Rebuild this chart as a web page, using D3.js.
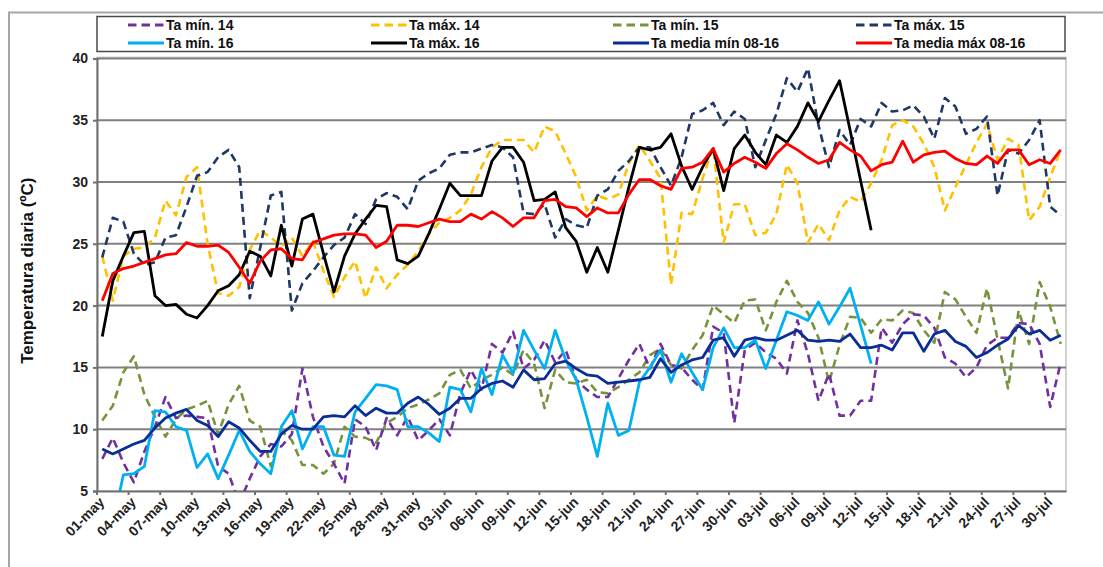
<!DOCTYPE html>
<html>
<head>
<meta charset="utf-8">
<script src="https://cdn.jsdelivr.net/npm/d3@7"></script>
<style>
  body { margin: 0; background: #fff; }
  svg { display: block; }
  .tick-label { font-family: "Liberation Sans Narrow", "Arial Narrow", "Liberation Sans", Arial, sans-serif; font-weight: bold; fill: #222; }
  .legend-text { font-family: "Liberation Sans Narrow", "Arial Narrow", "Liberation Sans", Arial, sans-serif; font-weight: bold; font-size: 14px; fill: #111; }
</style>
</head>
<body>
<svg id="chart"></svg>
<script>
// days 01-may .. 31-jul
const months = [["may", 31], ["jun", 30], ["jul", 31]];
const categories = [];
months.forEach(([m, n]) => {
  for (let d = 1; d <= n; d++) categories.push(String(d).padStart(2, "0") + "-" + m);
});

const yTicks = [5, 10, 15, 20, 25, 30, 35, 40];

const tMin14 = [7.6, 9.3, 7.3, 5.7, 8.2, 10.2, 12.6, 10.9, 11.1, 11.0,
  10.9, 7.0, 6.4, 4.0, 6.0, 7.8, 8.8, 8.6, 9.6, 14.9,
  11.0, 8.6, 7.2, 5.6, 10.8, 10.2, 8.3, 10.9, 9.5, 11.0,
  9.1, 9.9, 10.8, 9.5, 12.9, 14.8, 13.2, 16.9, 16.2, 17.9,
  14.9, 15.6, 17.2, 15.4, 16.4, 14.0, 13.2, 12.6, 12.6, 14.1,
  15.6, 16.9, 14.9, 16.9, 15.2, 15.0, 14.0, 13.2, 18.3, 17.8,
  10.5, 16.4, 17.0, 16.2, 15.7, 14.5, 18.8, 16.1, 12.3, 14.5,
  11.1, 11.1, 12.3, 12.3, 18.2, 17.0, 18.5, 19.3, 19.2, 18.2,
  15.8, 15.3, 14.2, 15.0, 16.8, 17.4, 17.4, 18.6, 18.5, 16.9,
  11.8, 15.4];

const tMax14 = [24.0, 20.4, 24.0, 24.6, 24.7, 25.5, 28.5, 27.3, 30.4, 31.2,
  25.0, 21.0, 20.8, 21.5, 24.5, 26.1, 25.5, 24.8, 25.5, 24.0,
  25.2, 22.8, 20.7, 22.3, 23.6, 20.6, 23.1, 21.4, 22.5, 23.3,
  24.4, 25.8, 26.7, 27.1, 27.7, 29.0, 31.2, 32.8, 33.4, 33.4,
  33.4, 32.4, 34.5, 34.1, 32.3, 30.4, 27.7, 28.9, 28.6, 29.0,
  31.5, 33.0, 31.7, 30.3, 21.7, 27.5, 27.4, 30.3, 32.8, 25.1,
  28.2, 28.2, 25.7, 25.9, 27.4, 31.4, 29.9, 25.1, 26.6, 25.3,
  27.7, 28.8, 28.4, 29.9, 31.8, 34.6, 35.0, 34.5, 33.1, 31.2,
  27.7, 29.6, 31.4, 33.2, 34.7, 31.8, 33.5, 33.0, 26.9, 28.0,
  30.4, 32.6];

const tMin15 = [10.7, 11.9, 14.6, 15.9, 12.8, 11.0, 9.4, 10.8, 11.6, 11.9,
  12.3, 9.6, 12.0, 13.5, 10.7, 10.2, 7.0, 9.9, 9.1, 7.1,
  7.1, 6.4, 7.2, 10.2, 9.4, 9.3, 8.9, 10.5, 11.0, 11.7,
  12.0, 12.4, 12.9, 14.4, 14.8, 13.3, 14.0, 14.4, 15.0, 14.4,
  16.4, 15.3, 11.7, 14.8, 13.8, 13.7, 14.0, 13.0, 12.9, 13.4,
  14.0, 14.6, 16.0, 16.5, 15.2, 14.9, 16.4, 17.6, 20.0, 19.3,
  18.6, 20.4, 20.5, 18.0, 20.3, 22.0, 20.3, 19.4, 17.4, 13.8,
  16.8, 19.1, 19.0, 17.8, 18.9, 18.8, 19.6, 19.4, 18.0, 17.0,
  21.1, 20.5, 19.1, 17.8, 21.4, 17.3, 13.3, 19.6, 16.9, 21.9,
  19.9, 16.9];

const tMax15 = [23.9, 27.1, 26.8, 24.2, 23.3, 23.5, 25.5, 25.7, 28.0, 30.5,
  30.8, 32.0, 32.6, 31.2, 20.6, 24.7, 28.9, 29.2, 19.6, 21.8,
  22.8, 23.9, 24.9, 25.5, 27.4, 26.6, 28.6, 29.1, 28.8, 27.8,
  30.1, 30.7, 31.1, 32.2, 32.4, 32.4, 32.7, 33.0, 32.8, 32.0,
  27.5, 27.4, 28.2, 25.5, 27.0, 26.5, 26.3, 28.9, 29.4, 30.9,
  31.7, 32.8, 32.8, 31.2, 29.7, 32.0, 35.5, 35.8, 36.4, 34.6,
  35.7, 35.1, 31.2, 33.4, 35.5, 38.4, 37.3, 39.2, 34.6, 31.2,
  34.2, 33.0, 35.1, 34.5, 36.4, 35.7, 35.8, 36.2, 35.3, 33.5,
  36.8, 36.1, 33.9, 34.3, 35.3, 28.9, 32.6, 32.3, 33.4, 35.0,
  28.0, 27.3];

const tMin16 = [3.0, 2.3, 6.3, 6.4, 7.0, 11.5, 11.4, 10.2, 9.9, 6.9,
  8.0, 6.0, 7.9, 9.9, 8.2, 7.2, 6.4, 10.2, 11.5, 8.4,
  10.2, 10.2, 7.9, 7.8, 11.4, 12.5, 13.6, 13.5, 13.2, 10.2,
  10.2, 9.7, 9.0, 13.4, 13.2, 11.4, 14.9, 12.8, 16.0, 14.5,
  18.0, 16.4, 14.9, 18.0, 15.6, 14.0, 11.0, 7.8, 12.1, 9.5,
  9.9, 13.8, 15.0, 16.4, 13.8, 16.1, 14.6, 13.2, 16.6, 18.2,
  16.6, 16.6, 17.2, 14.9, 17.2, 19.5, 19.2, 18.8, 20.3, 18.5,
  19.9, 21.4, 18.4, 15.3];

const tMax16 = [17.5, 22.0, 24.0, 25.9, 26.0, 20.8, 20.0, 20.1, 19.3, 19.0,
  20.0, 21.2, 21.6, 22.5, 24.4, 24.0, 22.4, 26.5, 23.2, 27.0,
  27.4, 24.2, 21.1, 24.0, 25.8, 27.0, 28.1, 28.0, 23.7, 23.4,
  24.0, 25.8, 27.8, 29.9, 28.9, 28.9, 28.9, 31.7, 32.8, 32.8,
  31.6, 28.5, 28.6, 29.2, 26.3, 25.2, 22.7, 24.7, 22.7, 26.1,
  29.6, 32.8, 32.6, 32.8, 33.9, 31.3, 29.4, 31.2, 32.7, 29.3,
  32.7, 33.8, 32.4, 31.4, 33.8, 33.2, 34.5, 36.4, 34.9, 36.6,
  38.2, 34.2, 30.1, 26.1];

const mediaMin = [8.4, 8.0, 8.4, 8.8, 9.1, 10.1, 10.9, 11.3, 11.6, 10.7,
  10.3, 9.4, 10.6, 10.1, 9.1, 8.2, 8.2, 9.6, 10.3, 10.0,
  10.0, 11.0, 11.1, 11.0, 11.9, 11.1, 11.7, 11.3, 11.3, 12.1,
  12.6, 12.0, 11.2, 11.7, 12.5, 12.5, 13.3, 13.7, 13.9, 13.4,
  14.8, 14.0, 14.1, 15.3, 15.5, 14.9, 14.4, 14.3, 13.7, 13.8,
  13.9, 14.0, 14.2, 15.7, 14.6, 15.2, 15.6, 15.8, 17.2, 17.4,
  15.9, 17.2, 17.4, 17.2, 17.2, 17.6, 18.0, 17.2, 17.1, 17.2,
  17.1, 17.7, 16.6, 16.6, 16.8, 16.4, 17.8, 17.8, 16.3, 17.7,
  18.0, 17.1, 16.7, 15.8, 16.2, 16.8, 17.3, 18.4, 17.7, 18.0,
  17.2, 17.6];

const mediaMax = [20.4, 22.6, 23.0, 23.2, 23.5, 23.8, 24.1, 24.2, 25.1, 24.8,
  24.8, 24.9, 24.3, 23.1, 21.8, 23.6, 24.5, 24.6, 23.8, 23.7,
  25.1, 25.4, 25.7, 25.8, 25.8, 25.7, 24.7, 25.2, 26.5, 26.5,
  26.4, 26.7, 27.0, 26.8, 26.8, 27.4, 27.0, 27.6, 27.1, 26.4,
  27.1, 27.1, 28.5, 28.6, 28.0, 27.9, 27.2, 27.9, 27.5, 27.5,
  29.0, 30.2, 30.2, 29.7, 29.4, 31.1, 31.2, 31.6, 32.7, 30.8,
  31.5, 32.0, 31.6, 31.1, 32.3, 33.1, 32.6, 32.0, 31.5, 31.8,
  33.2, 32.6, 32.1, 30.9, 31.4, 31.6, 33.3, 31.6, 32.2, 32.4,
  32.5, 31.9, 31.5, 31.4, 32.1, 31.5, 32.6, 32.6, 31.4, 31.8,
  31.5, 32.6];

const seriesNames = ["Ta mín. 14", "Ta máx. 14", "Ta mín. 15", "Ta máx. 15",
  "Ta mín. 16", "Ta máx. 16", "Ta media mín 08-16", "Ta media máx 08-16"];
const seriesValues = [tMin14, tMax14, tMin15, tMax15, tMin16, tMax16, mediaMin, mediaMax];
const seriesColors = ["#7030a0", "#ffc000", "#77933c", "#1f3864", "#00b0f0", "#000000", "#0a2d96", "#ff0000"];
const seriesDashed = [true, true, true, true, false, false, false, false];

const width = 1103, height = 567;
const plot = {left: 97, right: 1066, top: 58.4, bottom: 491};

const svg = d3.select("#chart")
  .attr("width", width)
  .attr("height", height);

svg.append("rect").attr("width", width).attr("height", height).attr("fill", "#fff");

// outer frame (only top and left visible)
svg.append("path")
  .attr("d", "M9,567 V12.5 H1103")
  .attr("fill", "none")
  .attr("stroke", "#a6a6a6")
  .attr("stroke-width", 2);

const xScale = d3.scaleBand()
  .domain(categories)
  .range([plot.left, plot.right])
  .padding(0);

const yScale = d3.scaleLinear()
  .domain([5, 40])
  .range([plot.bottom, plot.top]);

const xMid = d => xScale(d) + xScale.bandwidth() / 2;

// plot border
svg.append("rect")
  .attr("x", plot.left)
  .attr("y", plot.top - 1)
  .attr("width", plot.right - plot.left)
  .attr("height", plot.bottom - plot.top + 1)
  .attr("fill", "none")
  .attr("stroke", "#c4c4c4")
  .attr("stroke-width", 1.5);

// gridlines
svg.append("g")
  .selectAll("line")
  .data(yTicks.slice(1))
  .enter().append("line")
  .attr("x1", plot.left)
  .attr("x2", plot.right)
  .attr("y1", d => yScale(d))
  .attr("y2", d => yScale(d))
  .attr("stroke", "#808080")
  .attr("stroke-width", 2);

// y axis
const yAxis = d3.axisLeft(yScale)
  .tickValues(yTicks)
  .tickSize(4)
  .tickPadding(5);

const gy = svg.append("g")
  .attr("transform", "translate(" + plot.left + ",0)")
  .call(yAxis);
gy.select(".domain").attr("stroke", "#707070").attr("stroke-width", 2);
gy.selectAll(".tick line").attr("stroke", "#707070").attr("stroke-width", 2);
gy.selectAll(".tick text")
  .attr("class", "tick-label")
  .style("font-size", "14px");

// x axis: ticks every 3 days on category boundaries
const xAxis = d3.axisBottom(xScale)
  .tickValues(categories.filter((d, i) => i % 3 === 0))
  .tickSize(0)
  .tickPadding(0);

const gx = svg.append("g")
  .attr("transform", "translate(0," + plot.bottom + ")")
  .call(xAxis);
gx.select(".domain").attr("stroke", "#707070").attr("stroke-width", 2);
gx.selectAll(".tick line").remove();
gx.selectAll(".tick")
  .append("line")
  .attr("x1", -xScale.bandwidth() / 2)
  .attr("x2", -xScale.bandwidth() / 2)
  .attr("y1", 0)
  .attr("y2", 4)
  .attr("stroke", "#707070")
  .attr("stroke-width", 2);
gx.selectAll(".tick text")
  .attr("class", "tick-label")
  .style("font-size", "14px")
  .attr("text-anchor", "end")
  .attr("dy", null)
  .attr("y", 0)
  .attr("transform", "translate(3,12) rotate(-45)");

// y title
svg.append("text")
  .attr("transform", "translate(33," + ((plot.top + plot.bottom) / 2 - 4) + ") rotate(-90)")
  .attr("text-anchor", "middle")
  .style("font-family", "'Liberation Sans', Arial, sans-serif")
  .style("font-weight", "bold")
  .style("font-size", "17px")
  .attr("fill", "#111")
  .text("Temperatura diaria (ºC)");

// series
svg.append("clipPath").attr("id", "plot-clip")
  .append("rect")
  .attr("x", plot.left)
  .attr("y", plot.top - 2)
  .attr("width", plot.right - plot.left)
  .attr("height", plot.bottom - plot.top + 2);

const line = d3.line()
  .x((d, i) => xMid(categories[i]))
  .y(d => yScale(d));

const drawOrder = [1, 3, 2, 0, 4, 5, 6, 7];
svg.append("g")
  .attr("clip-path", "url(#plot-clip)")
  .selectAll("path")
  .data(drawOrder)
  .enter().append("path")
  .attr("d", k => line(seriesValues[k]))
  .attr("fill", "none")
  .attr("stroke", k => seriesColors[k])
  .attr("stroke-width", k => seriesDashed[k] ? 2.6 : 2.8)
  .attr("stroke-dasharray", k => seriesDashed[k] ? "8,5" : null)
  .attr("stroke-linejoin", "round");

// legend
svg.append("rect")
  .attr("x", 97)
  .attr("y", 16.5)
  .attr("width", 968)
  .attr("height", 35)
  .attr("fill", "#fff")
  .attr("stroke", "#4a4a4a")
  .attr("stroke-width", 1.5);

const legendX = [128, 371, 613, 856];
const legendY = [25, 43];

const item = svg.append("g")
  .selectAll("g")
  .data(seriesNames)
  .enter().append("g")
  .attr("transform", (d, i) => "translate(" + legendX[i % 4] + "," + legendY[Math.floor(i / 4)] + ")");

item.append("line")
  .attr("x1", 0)
  .attr("x2", 36)
  .attr("stroke", (d, i) => seriesColors[i])
  .attr("stroke-width", 3)
  .attr("stroke-dasharray", (d, i) => seriesDashed[i] ? "8.5,5" : null);

item.append("text")
  .attr("class", "legend-text")
  .attr("x", 38)
  .attr("dy", "0.36em")
  .text(d => d);
</script>
</body>
</html>
